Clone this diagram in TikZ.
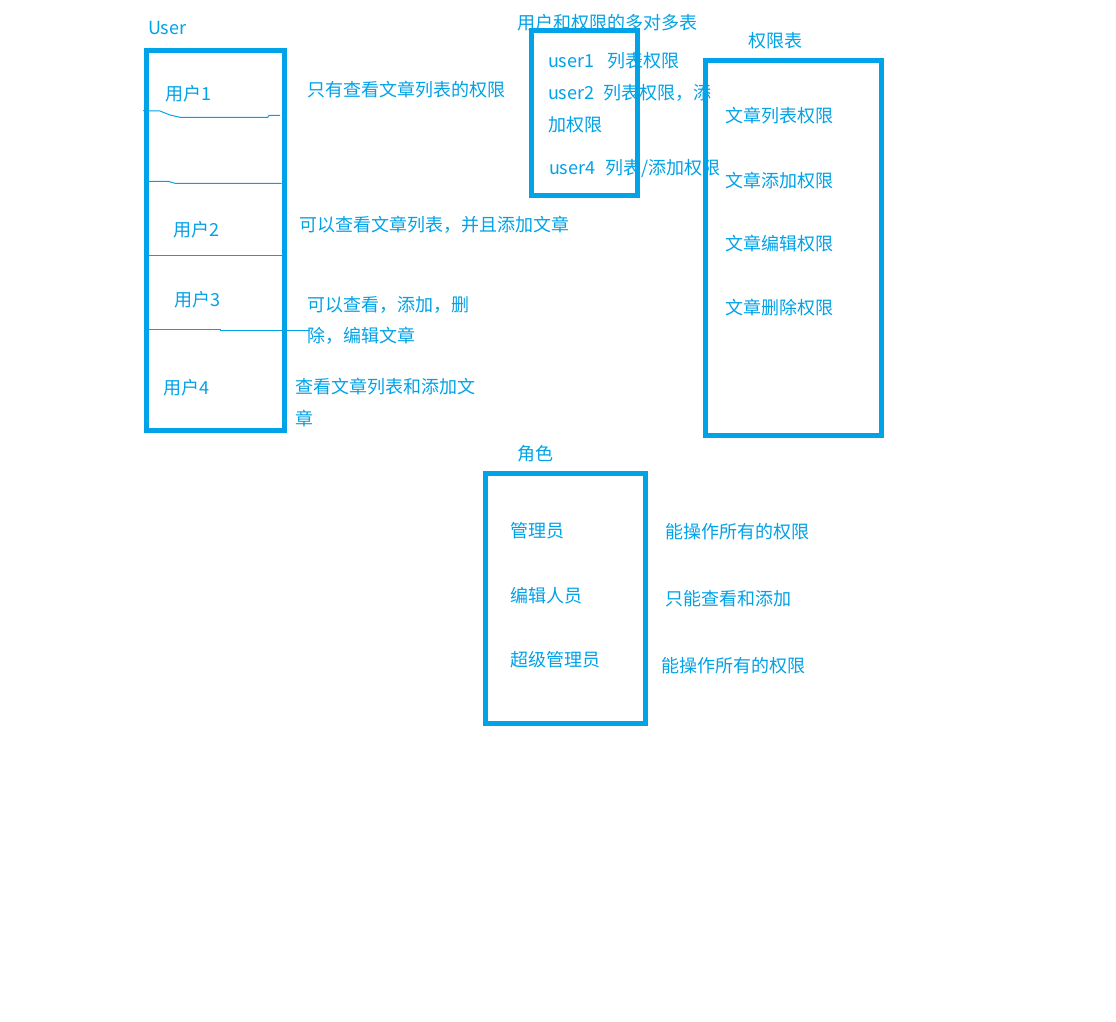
\documentclass[tikz,border=0pt]{standalone}
\usepackage{fontspec}
\newfontfamily\cjk{Noto Sans CJK SC}
\definecolor{ink}{HTML}{00A2E8}
\begin{document}
\begin{tikzpicture}[x=1pt,y=-1pt,
  box/.style={draw=ink,line width=5pt,rectangle,inner sep=0pt,outer sep=0pt},
  sep/.style={draw=ink,line width=1pt},
  lbl/.style={anchor=base west,inner sep=0pt,outer sep=0pt,text=ink,font=\cjk\fontsize{18}{18}\selectfont}]
\useasboundingbox[fill=white] (0,0) rectangle (1116,1022);

% boxes
\node[box,minimum width=138pt,minimum height=379pt] (userbox) at (215.5,240.5) {};
\node[box,minimum width=106.5pt,minimum height=164pt] (linkbox) at (584.25,113) {};
\node[box,minimum width=176.5pt,minimum height=375pt] (permbox) at (793.25,248) {};
\node[box,minimum width=160pt,minimum height=250pt] (rolebox) at (565.5,598) {};

% separators in user box
\draw[sep] (143,110.7) -- (160,111) -- (170,115) -- (180,117.3) -- (267.7,117.3) -- (269,115.5) -- (280,115.5);
\draw[sep] (148,181.3) -- (168.3,181.3) -- (175,183.3) -- (281.7,183.3);
\draw[sep] (148,255.7) -- (287.3,255.7);
\draw[sep] (148,329.3) -- (220,329.3) -- (220,330) -- (310,330);

% titles
\node[lbl] (tuser) at (148,35) {User};
\node[lbl] (tlink) at (517,29.5) {用户和权限的多对多表};
\node[lbl] (tperm) at (748,47.5) {权限表};
\node[lbl] (trole) at (517,460) {角色};

% users
\node[lbl] (u1) at (165,101) {用户1};
\node[lbl] (u2) at (173,236) {用户2};
\node[lbl] (u3) at (174,306) {用户3};
\node[lbl] (u4) at (163.3,394.5) {用户4};

\node[lbl] (d1) at (307,96.5) {只有查看文章列表的权限};
\node[lbl] (d2) at (299,231.5) {可以查看文章列表，并且添加文章};
\node[lbl] (d3a) at (307,311) {可以查看，添加，删};
\node[lbl] (d3b) at (307,342) {除，编辑文章};
\node[lbl] (d4a) at (295.5,393.5) {查看文章列表和添加文};
\node[lbl] (d4b) at (295.5,425.5) {章};

% link table
\node[lbl] (l1) at (548,67.5) {user1\hspace{13pt}列表权限};
\node[lbl] (l2a) at (548,100) {user2\hspace{9pt}列表权限，添};
\node[lbl] (l2b) at (548,131.5) {加权限};
\node[lbl] (l4) at (549,175) {user4\hspace{10pt}列表/添加权限};

% permissions
\node[lbl] (p1) at (725,122.5) {文章列表权限};
\node[lbl] (p2) at (725,187) {文章添加权限};
\node[lbl] (p3) at (725,250) {文章编辑权限};
\node[lbl] (p4) at (725,314.5) {文章删除权限};

% roles
\node[lbl] (r1) at (510,537) {管理员};
\node[lbl] (r2) at (510,602) {编辑人员};
\node[lbl] (r3) at (510,666) {超级管理员};
\node[lbl] (r1d) at (665,538) {能操作所有的权限};
\node[lbl] (r2d) at (665,605) {只能查看和添加};
\node[lbl] (r3d) at (661,672) {能操作所有的权限};
\end{tikzpicture}
\end{document}
